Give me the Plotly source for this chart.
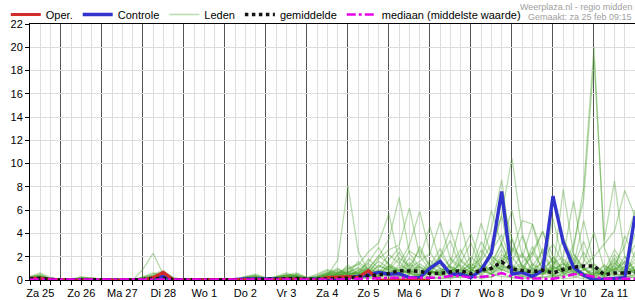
import plotly.graph_objects as go

# time axis: hours since Za 25 00:00, 6-hourly steps
uren = [6 + 6 * i for i in range(60)]

dag_labels = ["Za 25", "Zo 26", "Ma 27", "Di 28", "Wo 1", "Do 2", "Vr 3", "Za 4",
              "Zo 5", "Ma 6", "Di 7", "Wo 8", "Do 9", "Vr 10", "Za 11"]
dag_midden = [12 + 24 * d for d in range(len(dag_labels))]

oper = [0.15, 0.15, 0.05, 0, 0, 0, 0, 0, 0, 0, 0, 0, 0.2, 0.65, 0, 0, 0, 0, 0, 0,
        0, 0, 0.05, 0.05, 0.05, 0.1, 0.1, 0.05, 0, 0.2, 0.25, 0.3, 0.2, 0.8, 0, 0,
        0, 0, 0, 0]

controle = [0.1, 0.1, 0.05, 0, 0, 0, 0, 0, 0, 0, 0, 0, 0.15, 0.3, 0, 0, 0, 0, 0, 0,
            0.05, 0.1, 0.1, 0.1, 0.15, 0.15, 0.1, 0.05, 0.05, 0.1, 0.15, 0.2, 0.3, 0.45,
            0.65, 0.5, 0.55, 0.2, 0.2, 1.0, 1.6, 0.5, 0.5, 0.2, 0.85, 2.3, 7.6, 0.5,
            0.65, 0.3, 0.85, 7.2, 3.25, 1.1, 0.4, 0.0, 0.05, 0.1, 0.2, 5.5]

gemiddelde = [0.1, 0.15, 0.05, 0, 0, 0.03, 0.02, 0, 0, 0, 0, 0.05, 0.1, 0.15, 0.02,
              0, 0, 0, 0, 0, 0.02, 0.05, 0.08, 0.05, 0.05, 0.1, 0.12, 0.05, 0.05, 0.1,
              0.12, 0.15, 0.25, 0.4, 0.45, 0.55, 0.8, 0.75, 0.75, 0.55, 0.55, 0.7, 0.8,
              0.55, 0.85, 1.0, 1.55, 0.95, 0.85, 0.7, 0.85, 0.6, 0.9, 1.1, 1.2, 1.2,
              0.45, 0.6, 0.6, 0.65]

mediaan = [0.05, 0.05, 0, 0, 0, 0, 0, 0, 0, 0, 0, 0, 0.05, 0.05, 0, 0, 0, 0, 0, 0,
           0, 0, 0.02, 0, 0, 0.02, 0.05, 0, 0, 0.02, 0.05, 0.05, 0.1, 0.1, 0.15, 0.2,
           0.2, 0.2, 0.2, 0.15, 0.2, 0.35, 0.35, 0.2, 0.3, 0.35, 0.6, 0.3, 0.15, 0.15,
           0.12, 0.1, 0.25, 0.5, 0.45, 0.25, 0.1, 0.1, 0.1, 0.1]

leden = [
    [0.2,0.5,0.1,0,0,0.2,0.1,0,0,0,0,0.1,0.3,0.6,0.1,0,0,0,0,0,0,0.2,0.4,0.1,0.2,0.3,0.5,0.2,0.3,0.6,1.0,0.4,
     0.8,1.5,2.8,1.2,0.6,1.9,0.9,0.4,2.2,1.1,0.5,0.8,1.6,3.1,5.5,1.2,0.6,2.4,1.0,0.3,1.8,0.9,0.2,0.5,1.3,0.6,2.0,0.8],
    [0.1,0.3,0,0,0,0,0,0,0,0,0,0,0.1,0.3,0,0,0,0,0,0,0,0,0.2,0,0,0.1,0.2,0,0.1,0.4,1.7,8.1,
     2.5,0.7,0.3,1.0,2.4,0.8,0.2,1.3,0.6,0.2,1.8,0.9,0.4,1.1,2.6,0.7,0.3,0.9,1.5,0.4,0.8,2.2,1.0,0.3,0.6,1.9,0.7,1.2],
    [0.3,0.6,0.2,0,0,0.1,0.2,0,0,0,0,0.2,0.5,0.8,0.2,0,0,0,0,0,0,0.1,0.2,0,0.3,0.6,0.3,0.1,0.4,0.8,0.5,0.9,
     1.3,2.4,3.2,5.7,1.6,0.7,2.9,1.2,0.6,1.4,5.0,1.1,0.8,2.0,1.4,3.6,1.0,0.4,2.7,1.6,0.5,1.2,3.3,0.9,0.2,0.8,1.5,3.0],
    [0,0.1,0,0,0,0,0,0,0,0,0,0,0.2,0.4,0.1,0,0,0,0,0,0,0.3,0.5,0.2,0,0.2,0.4,0.1,0.2,0.3,0.6,1.1,
     0.4,1.0,2.0,3.5,7.1,2.3,1.1,0.5,1.9,3.4,1.0,0.3,1.2,0.7,2.2,1.5,3.8,1.1,0.6,2.0,0.9,0.4,1.6,4.1,1.0,0.5,0.3,2.4],
    [0.1,0.2,0.1,0,0,0.1,0,0,0,0,0,0.1,0.3,0.5,0.1,0,0,0,0,0,0,0,0.1,0.1,0.2,0.4,0.6,0.2,0.1,0.5,0.9,0.6,
     1.1,0.6,1.8,2.6,3.0,6.2,2.1,0.8,0.4,1.3,2.6,0.9,3.3,1.8,0.8,2.7,1.2,0.5,1.7,3.1,1.4,0.6,0.9,1.1,0.4,2.2,1.0,0.6],
    [0.2,0.3,0,0,0,0,0.1,0,0,0,0,0,0.1,0.2,0,0,0,0,0,0,0,0.2,0.3,0,0.1,0.1,0.3,0,0.3,0.7,0.4,1.3,
     0.5,1.8,1.0,2.2,1.4,3.0,5.9,2.4,1.0,0.6,1.5,3.2,0.9,2.5,3.9,1.3,0.7,2.9,0.8,1.0,3.6,1.7,0.9,0.4,1.2,0.8,3.8,1.9],
    [0,0.2,0.1,0,0,0.2,0.2,0,0,0,0,0.2,0.4,0.7,0.2,0,0,0,0,0,0,0.1,0.2,0.1,0.2,0.5,0.3,0.1,0.2,0.5,0.8,0.5,
     1.6,0.9,2.1,1.4,0.8,2.5,1.9,4.6,1.5,0.7,0.9,2.0,1.1,0.5,1.8,2.8,1.9,4.8,1.3,0.5,1.1,0.7,2.4,0.8,0.3,1.4,0.9,1.5],
    [0.1,0.1,0,0,0,0,0,0,0,0,0,0,0.2,0.3,0,0,0,0,0,0,0,0,0.1,0,0.1,0.3,0.2,0,0.1,0.3,0.6,0.7,
     0.3,1.2,0.6,1.7,2.8,1.0,1.6,2.3,5.0,1.8,0.8,0.5,2.6,1.3,0.9,0.6,1.1,2.1,4.2,1.2,0.6,1.9,1.0,0.2,0.5,1.1,0.4,0.9],
    [0.2,0.4,0.1,0,0,0.1,0.1,0,0,0,0,0.1,0.2,0.4,0.1,0,0,0,0,0,0,0.2,0.2,0.1,0.1,0.2,0.5,0.2,0.2,0.4,0.7,0.3,
     0.9,0.4,1.3,0.8,1.9,1.2,2.6,1.1,2.0,4.3,1.6,0.9,0.6,1.2,3.2,1.0,0.5,1.4,0.9,5.3,1.5,1.0,0.6,0.3,0.8,2.6,1.3,0.5],
    [0,0,0,0,0,0,0,0,0,0,0,0,0.1,0.2,0,0,0,0,0,0,0,0.1,0.1,0,0,0.1,0.2,0,0.1,0.2,0.4,0.2,
     0.6,0.3,0.9,0.5,1.3,0.8,0.4,1.7,0.9,0.6,2.2,4.0,1.4,0.8,1.9,1.2,0.7,0.4,1.1,0.7,7.8,2.3,1.0,0.6,0.4,1.0,0.7,1.8],
    [0.3,0.4,0.1,0,0,0.3,0.1,0,0,0,0,0.3,0.6,0.4,0,0,0,0,0,0,0,0.3,0.4,0.2,0.2,0.4,0.3,0.2,0.5,0.9,0.6,1.0,
     1.4,0.7,1.6,1.0,0.5,1.3,0.7,1.2,2.7,1.0,0.6,1.5,4.9,2.1,1.2,0.9,2.3,0.8,0.5,1.4,2.0,6.8,1.8,0.7,0.5,0.9,1.6,0.8],
    [0.1,0.3,0,0,0,0,0.1,0,0,0,0,0,0.2,0.5,0.1,0,0,0,0,0,0,0,0.2,0.1,0.1,0.3,0.4,0.1,0.2,0.5,0.3,0.8,
     0.5,1.4,0.8,0.6,1.1,0.5,1.4,0.8,0.6,1.9,1.1,0.7,2.0,6.0,3.0,1.0,0.5,1.2,2.5,0.9,0.4,1.3,5.1,1.4,0.6,1.7,0.8,4.0],
    [0,0.2,0.1,0,0,0.1,0,0,0,0,0,0.1,0.3,0.3,0,0,0,0,0,0,0,0.1,0.3,0,0.2,0.2,0.3,0.1,0.1,0.3,0.5,0.4,
     0.7,0.5,1.2,0.9,0.4,1.0,0.6,0.9,1.3,0.8,0.5,1.2,1.8,4.4,8.6,2.0,0.8,0.6,1.0,1.7,0.8,0.5,0.9,1.3,0.6,0.4,1.2,0.7],
    [0.2,0.2,0,0,0,0,0,0,0,0,0,0,0.1,0.2,0,0,0,0,0,0,0,0.2,0.1,0,0.1,0.2,0.1,0,0.2,0.4,0.3,0.6,
     0.4,0.9,0.5,1.1,0.7,1.5,0.8,0.5,1.0,0.7,1.3,0.6,1.1,2.4,7.0,3.5,1.1,0.7,0.4,1.1,0.6,1.5,0.9,0.5,0.9,1.5,0.6,1.1],
    [0.1,0.3,0.1,0,0,0.2,0.1,0,0,0,0,0.2,0.4,0.5,0.1,0,0,0,0,0,0,0.1,0.3,0.1,0.3,0.4,0.2,0.1,0.3,0.6,0.4,0.7,
     1.0,0.6,0.4,1.3,0.8,0.5,1.2,0.7,0.5,1.1,0.8,1.4,0.9,2.2,5.6,10.5,4.0,1.3,0.7,0.9,1.4,0.8,0.4,1.0,0.5,1.2,0.7,0.9],
    [0,0.1,0,0,0,0,0,0,0,0,0,0,0.1,0.2,0,0,0,0,0,0,0,0,0.1,0,0,0.2,0.1,0,0.1,0.2,0.3,0.5,
     0.3,0.7,0.4,0.8,0.5,0.9,0.4,0.6,0.8,0.5,0.9,0.4,0.7,1.5,3.2,6.0,2.1,0.9,0.5,1.2,0.7,2.6,8.0,20.0,2.8,0.6,0.4,0.9],
    [0.2,0.3,0.1,0,0,0.1,0.1,0,0,0,0,0.1,0.2,0.3,0.1,0,0,0,0,0,0,0.2,0.2,0.1,0.2,0.3,0.3,0.1,0.2,0.4,0.5,0.6,
     0.5,0.8,0.6,0.4,0.9,0.6,0.3,0.8,0.5,0.9,0.6,0.3,0.8,0.5,1.0,0.7,1.3,0.6,0.9,0.5,1.2,3.0,7.0,19.0,3.4,8.5,2.0,0.8],
    [0.1,0.1,0,0,0,0,0,0,0,0,0,0,0.1,0.3,0,0,0,0,0,0,0,0.1,0.2,0,0.1,0.1,0.2,0,0.1,0.3,0.4,0.3,
     0.4,0.6,0.3,0.7,0.4,0.8,0.5,0.3,0.7,0.4,0.6,0.3,0.9,0.6,1.1,0.8,0.5,1.0,0.6,0.9,1.4,0.7,1.2,2.0,3.1,4.2,7.7,5.5],
    [0.1,0.2,0,0,0,0.1,0,0,0,0,0,0.1,0.2,0.3,0,0,0,0,0,0,0,0.1,0.2,0,0.1,0.2,0.3,0,0.2,0.3,0.5,0.4,
     0.6,0.4,0.8,0.5,0.9,0.6,0.4,0.8,0.5,0.7,0.4,0.9,0.6,1.0,1.6,2.3,5.1,4.8,2.2,0.7,1.0,0.6,0.3,0.7,0.4,0.9,0.5,0.7],
    [0.2,0.4,0.1,0,0,0.1,0.1,0,0,0,0,0.2,0.3,0.6,0.1,0,0,0,0,0,0,0.2,0.3,0.1,0.2,0.4,0.4,0.1,0.2,0.5,0.7,0.5,
     0.7,1.0,0.6,1.2,0.7,0.9,1.1,0.6,0.8,1.2,0.7,1.0,1.3,0.8,1.2,0.9,1.5,2.4,4.2,2.0,0.8,1.1,0.6,0.4,0.7,1.3,2.9,6.0],
    [0,0.1,0,0,0,0,0,0,0,0,0,0,0,0.1,0,0,0,0,0,0,0,0,0.1,0,0,0.1,0.1,0,0,0.1,0.2,0.1,
     0.2,0.1,0.3,0.2,0.4,0.2,0.1,0.3,0.2,0.1,0.4,0.2,0.3,0.5,0.3,0.2,0.4,0.1,0.3,0.2,0.6,0.3,0.1,0,0.1,0.2,0.1,0.3],
    [0.1,0.1,0,0,0,0,0,0,0,0,0,0,0.1,0.1,0,0,0,0,0,0,0,0,0,0,0,0,0.1,0,0,0.1,0.1,0.2,
     0.1,0.3,0.2,0.5,0.3,0.1,0.4,0.2,0.1,0.3,0.2,0.5,0.1,0.3,0.6,0.2,0.1,0.3,0.2,0.4,0.1,0.2,0.5,0.2,0,0.1,0.3,0.2],
    [0,0,0,0,0,0,0,0,0,0,0,0,0.1,0.2,0,0,0,0,0,0,0,0.1,0.1,0,0.1,0.1,0.1,0,0.1,0.2,0.2,0.3,
     0.3,0.2,0.6,0.3,0.2,0.5,0.3,0.6,0.4,0.2,0.3,0.7,0.4,0.2,0.9,0.5,0.3,0.2,0.6,0.3,0.4,0.9,0.3,0.1,0.2,0.4,0.2,0.5],
    [0.1,0.2,0,0,0,0,0,0,0,0,0,0.9,2.3,0.5,0,0,0,0,0,0,0,0,0.1,0,0,0.1,0.2,0,0.1,0.2,0.3,0.2,
     0.4,0.3,0.7,0.4,0.6,0.3,0.5,0.8,0.4,0.3,0.6,0.4,0.8,0.5,1.3,0.9,0.6,0.4,0.7,0.5,0.3,0.6,0.4,0.2,0.3,0.6,0.3,0.4],
]

for m in leden:
    assert len(m) == len(uren), len(m)

FONT = "Liberation Sans, Arial, sans-serif"

fig = go.Figure()

for k, lid in enumerate(leden):
    fig.add_trace(go.Scatter(
        x=uren, y=lid, mode="lines", name="Leden",
        line=dict(color="rgb(70,160,40)", width=1.3),
        opacity=0.38, legendgroup="leden", showlegend=(k == 0),
        legendrank=3, hoverinfo="skip"))

fig.add_trace(go.Scatter(
    x=uren, y=controle, mode="lines", name="Controle",
    line=dict(color="rgb(50,50,205)", width=3.4), legendrank=2))

fig.add_trace(go.Scatter(
    x=uren[:len(oper)], y=oper, mode="lines", name="Oper.",
    line=dict(color="rgb(210,45,45)", width=3.2), legendrank=1))

fig.add_trace(go.Scatter(
    x=uren, y=gemiddelde, mode="lines", name="gemiddelde", xaxis="x2",
    line=dict(color="rgb(20,20,20)", width=3.5, dash="dot"), legendrank=4))

fig.add_trace(go.Scatter(
    x=uren, y=mediaan, mode="lines", name="mediaan (middelste waarde)", xaxis="x2",
    line=dict(color="rgb(230,0,230)", width=2.5, dash="dashdot"), legendrank=5))

fig.update_layout(
    width=635, height=300,
    margin=dict(l=30, r=0, t=21, b=20),
    paper_bgcolor="white", plot_bgcolor="white",
    font=dict(family=FONT, size=11, color="black"),
    showlegend=True,
    legend=dict(orientation="h", x=-0.04, y=1.095, xanchor="left", yanchor="top",
                bgcolor="rgba(0,0,0,0)", font=dict(size=11), itemwidth=30,
                traceorder="normal"),
    xaxis=dict(range=[6, 360], tickmode="linear", tick0=0, dtick=24,
               showticklabels=False, showgrid=True, gridcolor="#555555", gridwidth=1,
               ticks="outside", ticklen=4, tickcolor="black",
               showline=True, linecolor="black", linewidth=1, mirror=True,
               zeroline=False,
               minor=dict(tickmode="linear", tick0=0, dtick=6, showgrid=True,
                          gridcolor="#dddddd", gridwidth=1, ticks="outside",
                          ticklen=4, tickcolor="black")),
    xaxis2=dict(range=[6, 360], overlaying="x", anchor="y", side="bottom",
                tickmode="array", tickvals=dag_midden, ticktext=dag_labels,
                showgrid=False, zeroline=False, showline=False,
                ticks="outside", ticklen=3, tickcolor="rgba(0,0,0,0)",
                tickfont=dict(size=11)),
    yaxis=dict(range=[0, 22], tickmode="linear", tick0=0, dtick=2,
               showgrid=True, gridcolor="#dddddd", gridwidth=1,
               ticks="outside", ticklen=4, tickcolor="black",
               showline=True, linecolor="black", linewidth=1,
               zeroline=False, tickfont=dict(size=11)),
    annotations=[
        dict(text="Weerplaza.nl - regio midden", xref="paper", yref="paper",
             x=1, y=1.0656, xanchor="right", yanchor="middle", showarrow=False,
             xshift=-2, borderpad=0, font=dict(size=9, color="#a0a0a0")),
        dict(text="Gemaakt: za 25 feb 09:15", xref="paper", yref="paper",
             x=1, y=1.027, xanchor="right", yanchor="middle", showarrow=False,
             xshift=-2, borderpad=0, font=dict(size=9, color="#a0a0a0")),
    ],
)

fig.write_html("out.html")
